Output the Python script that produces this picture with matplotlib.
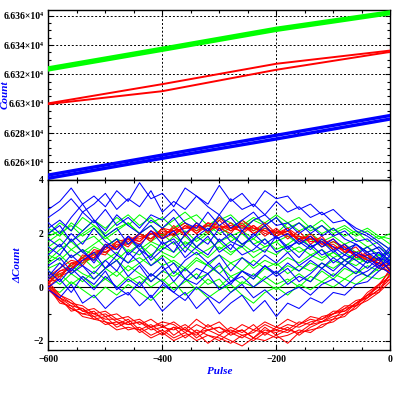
#!/usr/bin/env python3
"""
Count vs pulse: top panel raw counts, bottom panel residuals (ΔCount)
"""

import numpy as np
import matplotlib
matplotlib.use('Agg')
import matplotlib.pyplot as plt
from matplotlib.ticker import MultipleLocator, FuncFormatter

# ---- data ------------------------------------------------------------
# top panel: counts at a few pulse values
top_pulse = [-600, -400, -200, 0]
green_top_hi = [66324.6, 66338.0, 66351.6, 66362.8]
green_top_lo = [66323.0, 66336.4, 66350.0, 66361.4]
red_top_up = [66300.3, 66313.4, 66327.3, 66336.3]
red_top_dn = [66299.8, 66308.6, 66323.2, 66335.4]
blue_top_hi = [66251.4, 66265.0, 66278.5, 66292.0]
blue_top_lo = [66249.2, 66262.8, 66276.0, 66289.6]

# bottom panel: residuals every 20 pulses, -600 .. 0
pulse = np.arange(-600, 1, 20)

green_resid = [
    [2.2, 1.9, 2.4, 2.1, 2.5, 2.2, 2.6, 2.3, 2.7, 2.4, 2.6, 2.2, 2.5, 2.7, 2.3, 2.6, 2.4, 2.2, 2.5, 2.3, 2.6, 2.2, 2.4, 2.1, 2.3, 2.0, 2.2, 1.9, 2.1, 1.8, 2.0],
    [1.9, 2.1, 1.7, 2.0, 2.3, 1.9, 2.2, 2.4, 2.0, 2.3, 1.9, 2.2, 2.4, 2.1, 2.3, 2.0, 2.2, 2.5, 2.1, 2.3, 1.9, 2.1, 1.8, 2.0, 1.7, 1.9, 1.6, 1.8, 1.5, 1.7, 1.4],
    [1.5, 1.8, 1.4, 1.7, 1.9, 1.5, 1.8, 1.6, 2.0, 1.7, 1.5, 1.9, 1.6, 1.8, 2.1, 1.7, 1.9, 1.6, 1.8, 1.5, 1.7, 1.9, 1.6, 1.8, 1.5, 1.7, 1.4, 1.6, 1.3, 1.5, 1.2],
    [1.2, 1.0, 1.4, 1.1, 1.5, 1.3, 1.0, 1.4, 1.2, 1.6, 1.3, 1.1, 1.5, 1.2, 1.4, 1.7, 1.3, 1.5, 1.1, 1.4, 1.2, 1.6, 1.3, 1.5, 1.1, 1.3, 1.0, 1.2, 0.9, 1.1, 0.8],
    [0.9, 1.2, 0.8, 1.1, 0.7, 1.0, 1.3, 0.9, 1.1, 0.8, 1.2, 0.9, 0.6, 1.0, 0.8, 1.2, 0.9, 1.1, 0.7, 1.0, 0.8, 1.1, 0.9, 1.2, 1.0, 1.3, 1.0, 1.2, 0.9, 1.1, 1.3],
    [0.6, 0.4, 0.8, 0.5, 0.3, 0.7, 0.4, 0.8, 0.5, 0.2, 0.6, 0.4, 0.7, 0.3, 0.5, 0.8, 0.4, 0.6, 0.3, 0.7, 0.5, 0.8, 0.6, 0.9, 0.7, 1.0, 0.8, 1.1, 0.9, 1.2, 1.0],
    [0.3, 0.5, 0.1, 0.4, 0.0, 0.3, 0.6, 0.2, 0.4, 0.0, 0.3, -0.1, 0.2, 0.5, 0.1, 0.3, -0.2, 0.2, 0.0, 0.4, 0.1, 0.3, 0.0, 0.4, 0.2, 0.5, 0.3, 0.6, 0.4, 0.7, 0.6],
    [0.0, -0.2, 0.2, -0.1, -0.4, 0.0, -0.3, 0.1, -0.2, -0.5, -0.1, 0.2, -0.3, 0.0, -0.4, -0.1, 0.1, -0.3, -0.6, -0.2, 0.0, -0.3, 0.1, -0.1, 0.2, 0.0, 0.3, 0.1, 0.4, 0.3, 0.5],
    [1.7, 2.0, 2.3, 1.9, 2.2, 1.8, 2.1, 2.4, 2.0, 1.8, 2.2, 1.9, 2.1, 1.7, 2.0, 2.3, 1.9, 2.1, 1.8, 2.2, 2.0, 2.4, 2.1, 2.3, 2.0, 2.2, 1.9, 2.1, 1.7, 1.9, 1.6],
    [1.0, 1.4, 1.7, 1.3, 1.6, 1.9, 1.5, 1.8, 1.4, 1.7, 2.0, 1.6, 1.9, 1.5, 1.8, 1.4, 1.7, 2.0, 1.6, 1.8, 1.4, 1.6, 1.9, 1.5, 1.7, 1.4, 1.6, 1.3, 1.5, 1.2, 1.3],
    [0.7, 0.9, 0.5, 0.9, 1.1, 0.7, 1.0, 0.6, 0.9, 1.2, 0.8, 1.0, 0.7, 1.1, 0.8, 0.5, 0.9, 0.6, 1.0, 0.7, 0.9, 0.5, 0.8, 0.6, 0.9, 0.7, 1.0, 0.8, 1.1, 0.9, 0.7],
    [2.0, 2.4, 2.1, 2.6, 2.3, 2.0, 2.4, 2.7, 2.3, 2.6, 2.2, 2.5, 2.8, 2.4, 2.1, 2.5, 2.7, 2.3, 2.6, 2.4, 2.7, 2.4, 2.6, 2.2, 2.5, 2.1, 2.3, 2.0, 2.2, 1.9, 1.8],
    [0.4, 0.1, 0.5, 0.2, 0.6, 0.3, 0.0, 0.4, 0.1, 0.5, 0.2, 0.6, 0.3, -0.1, 0.3, 0.0, 0.4, 0.1, 0.5, 0.2, -0.1, 0.2, 0.5, 0.2, 0.6, 0.3, 0.7, 0.5, 0.8, 0.6, 0.9],
    [1.3, 1.6, 1.1, 1.4, 1.2, 1.5, 1.8, 1.3, 1.6, 1.2, 1.5, 1.3, 1.7, 1.4, 1.1, 1.5, 1.2, 1.6, 1.3, 1.5, 1.7, 1.3, 1.5, 1.2, 1.4, 1.1, 1.3, 1.0, 1.2, 1.0, 1.1],
]

red_resid_up = [
    [0.1, 0.6, 0.7, 1.1, 1.0, 1.5, 1.4, 1.8, 1.6, 2.0, 1.8, 2.3, 1.9, 2.4, 2.0, 2.5, 2.1, 2.4, 2.0, 2.3, 1.9, 2.2, 1.7, 2.0, 1.6, 1.8, 1.3, 1.5, 1.0, 1.1, 0.6],
    [0.3, 0.4, 0.9, 0.8, 1.3, 1.2, 1.7, 1.5, 2.0, 1.7, 2.2, 1.9, 2.3, 2.0, 2.4, 2.1, 2.4, 2.0, 2.3, 1.9, 2.2, 1.8, 2.1, 1.6, 1.9, 1.4, 1.6, 1.1, 1.3, 0.8, 0.9],
    [0.2, 0.5, 0.7, 1.0, 1.2, 1.3, 1.6, 1.6, 1.9, 1.8, 2.1, 2.0, 2.2, 2.3, 2.1, 2.3, 2.2, 2.1, 2.3, 2.0, 2.1, 2.0, 1.8, 1.9, 1.6, 1.6, 1.3, 1.3, 1.1, 0.9, 0.7],
    [0.4, 0.7, 1.0, 0.9, 1.4, 1.3, 1.5, 1.9, 1.7, 2.1, 1.9, 2.2, 2.0, 2.3, 2.1, 2.6, 2.2, 2.3, 2.1, 2.4, 2.0, 2.2, 1.9, 1.8, 1.7, 1.5, 1.4, 1.2, 1.0, 0.9, 0.5],
    [0.0, 0.4, 0.6, 1.2, 1.1, 1.6, 1.5, 1.7, 2.0, 1.8, 2.2, 2.1, 2.4, 2.0, 2.3, 2.2, 2.0, 2.5, 2.2, 2.1, 1.9, 2.1, 1.8, 1.9, 1.5, 1.7, 1.5, 1.2, 1.2, 0.8, 0.8],
    [0.3, 0.6, 0.8, 1.1, 1.3, 1.4, 1.7, 1.8, 1.8, 2.0, 2.0, 2.1, 2.2, 2.2, 2.3, 2.2, 2.3, 2.2, 2.2, 2.1, 2.1, 1.9, 1.9, 1.7, 1.7, 1.5, 1.4, 1.3, 1.0, 1.0, 0.6],
    [0.2, 0.3, 0.9, 1.0, 1.1, 1.5, 1.4, 1.8, 1.7, 2.1, 1.8, 2.0, 2.3, 2.1, 2.4, 2.3, 2.1, 2.3, 2.0, 2.2, 2.0, 2.1, 1.7, 1.8, 1.8, 1.4, 1.5, 1.1, 1.2, 0.7, 0.6],
]

red_resid_dn = [
    [0.1, -0.3, -0.6, -0.7, -1.0, -0.9, -1.2, -1.1, -1.4, -1.2, -1.5, -1.3, -1.6, -1.2, -1.5, -1.3, -1.7, -1.4, -1.6, -1.3, -1.5, -1.2, -1.4, -1.1, -1.2, -0.9, -0.9, -0.6, -0.4, -0.1, 0.3],
    [0.0, -0.5, -0.8, -1.0, -1.1, -1.4, -1.3, -1.6, -1.5, -1.8, -1.6, -1.9, -1.7, -2.0, -1.8, -1.9, -2.1, -1.8, -2.0, -1.7, -1.9, -1.8, -1.6, -1.7, -1.4, -1.3, -1.0, -0.8, -0.4, -0.1, 0.5],
    [-0.1, -0.4, -0.9, -0.8, -1.2, -1.1, -1.5, -1.3, -1.7, -1.5, -1.4, -1.8, -1.5, -1.9, -1.6, -1.5, -1.8, -1.6, -1.9, -1.5, -1.8, -1.6, -1.7, -1.4, -1.3, -1.2, -0.8, -0.7, -0.2, 0.1, 0.4],
    [0.2, -0.3, -0.5, -0.9, -0.8, -1.1, -1.0, -1.3, -1.2, -1.5, -1.3, -1.4, -1.7, -1.4, -1.6, -1.8, -1.5, -1.7, -1.4, -1.8, -1.5, -1.6, -1.3, -1.4, -1.1, -1.0, -0.8, -0.5, -0.4, 0.1, 0.6],
    [0.0, -0.6, -0.7, -1.1, -1.2, -1.3, -1.6, -1.5, -1.6, -1.9, -1.7, -2.0, -1.8, -1.7, -2.1, -1.8, -2.0, -2.2, -1.9, -2.0, -1.8, -2.1, -1.7, -1.6, -1.5, -1.2, -1.1, -0.7, -0.5, -0.2, 0.2],
    [0.1, -0.4, -0.6, -0.9, -1.0, -1.2, -1.2, -1.4, -1.3, -1.6, -1.5, -1.6, -1.4, -1.7, -1.6, -1.5, -1.7, -1.9, -1.6, -1.7, -1.6, -1.4, -1.5, -1.3, -1.2, -1.0, -0.9, -0.6, -0.3, 0.0, 0.7],
    [-0.1, -0.5, -0.8, -1.0, -0.9, -1.3, -1.4, -1.2, -1.6, -1.4, -1.7, -1.5, -1.9, -1.6, -1.8, -2.0, -1.7, -1.6, -1.9, -1.6, -1.7, -1.5, -1.8, -1.5, -1.3, -1.1, -1.0, -0.6, -0.3, 0.1, 0.3],
    [0.0, -0.4, -0.7, -0.8, -1.1, -1.0, -1.3, -1.4, -1.3, -1.5, -1.8, -1.5, -1.6, -1.8, -1.4, -1.7, -1.6, -1.8, -1.7, -1.4, -1.6, -1.7, -1.4, -1.2, -1.3, -1.0, -0.7, -0.7, -0.3, -0.2, 0.5],
]

blue_resid = [
    [2.9, 3.2, 3.7, 3.1, 3.4, 3.0, 3.6, 3.2, 3.9, 3.3, 3.5, 3.0, 3.7, 3.4, 3.1, 3.8, 3.2, 3.5, 3.0, 3.6, 3.3, 3.4, 2.9, 3.1, 2.7, 2.9, 2.5, 2.2, 2.0, 1.7, 1.4],
    [2.6, 2.9, 3.3, 2.8, 3.1, 3.5, 2.9, 3.3, 3.0, 3.6, 2.8, 3.2, 2.9, 3.4, 3.0, 2.7, 3.3, 2.9, 3.1, 2.7, 3.2, 2.8, 3.0, 2.6, 2.8, 2.4, 2.5, 2.1, 1.9, 1.6, 1.2],
    [2.2, 2.5, 2.1, 2.8, 2.4, 2.9, 2.3, 2.6, 2.2, 2.7, 2.5, 2.9, 2.4, 2.2, 2.8, 2.3, 2.6, 2.1, 2.5, 2.7, 2.3, 2.4, 2.0, 2.3, 1.9, 2.2, 1.8, 1.6, 1.3, 1.5, 1.1],
    [1.8, 1.5, 2.0, 1.6, 2.2, 1.7, 1.4, 1.9, 1.5, 2.1, 1.6, 1.8, 1.3, 1.9, 1.6, 2.2, 1.7, 1.5, 2.0, 1.6, 1.9, 1.4, 1.8, 1.5, 1.7, 1.3, 1.6, 1.2, 1.5, 1.1, 0.9],
    [1.2, 1.6, 1.1, 1.4, 0.9, 1.5, 1.8, 1.2, 1.6, 1.0, 1.4, 1.7, 1.1, 1.5, 1.9, 1.3, 1.6, 1.2, 1.4, 1.8, 1.3, 1.5, 1.1, 1.6, 1.2, 1.4, 1.0, 1.3, 1.1, 0.8, 1.0],
    [0.8, 1.1, 0.6, 1.0, 1.3, 0.7, 1.2, 0.9, 1.4, 0.8, 1.1, 0.5, 1.0, 1.3, 0.9, 1.2, 0.6, 1.1, 0.8, 1.2, 0.9, 1.3, 0.8, 1.1, 1.4, 0.9, 1.2, 1.0, 0.7, 1.1, 0.6],
    [0.4, 0.9, 0.5, 0.8, 0.3, 0.7, 1.0, 0.4, 0.8, 0.2, 0.6, 0.9, 0.3, 0.7, 0.5, 0.9, 0.2, 0.6, 0.4, 0.8, 0.5, 0.9, 0.6, 1.0, 0.7, 1.1, 0.8, 1.2, 0.9, 1.3, 0.8],
    [0.0, 0.3, -0.2, 0.4, 0.1, 0.6, -0.1, 0.3, 0.0, 0.5, 0.2, -0.2, 0.3, 0.1, 0.5, -0.1, 0.2, 0.4, 0.0, 0.3, 0.6, 0.1, 0.4, 0.2, 0.7, 0.4, 0.8, 0.5, 1.0, 0.7, 1.2],
    [-0.1, -0.4, 0.1, -0.6, -0.3, -0.8, -0.4, -0.2, -0.7, -0.3, -0.9, -0.5, -0.2, -0.8, -0.4, -1.0, -0.6, -0.3, -0.9, -0.5, -1.1, -0.6, -0.8, -0.4, -0.6, -0.2, -0.3, 0.1, 0.2, 0.6, 0.9],
    [0.6, 0.2, 0.7, 0.3, -0.1, 0.4, 0.0, -0.3, 0.2, -0.4, 0.1, -0.2, -0.5, 0.0, -0.3, -0.6, -0.2, 0.1, -0.4, -0.1, -0.5, -0.2, 0.0, -0.3, 0.1, 0.3, 0.0, 0.4, 0.6, 0.9, 1.4],
    [1.5, 1.2, 1.8, 1.3, 1.0, 1.6, 1.2, 1.9, 1.4, 1.1, 1.7, 1.3, 2.0, 1.5, 1.2, 1.8, 1.4, 2.1, 1.6, 1.3, 1.9, 1.5, 1.7, 1.4, 1.8, 1.5, 1.2, 1.6, 1.3, 1.0, 1.5],
    [2.4, 2.0, 2.6, 3.1, 2.5, 2.1, 2.7, 2.3, 2.0, 2.5, 2.2, 2.6, 2.0, 2.4, 2.1, 2.7, 2.2, 2.5, 2.8, 2.3, 2.6, 2.1, 2.4, 2.0, 2.3, 1.9, 2.1, 1.7, 1.8, 1.4, 0.9],
    [0.3, 0.7, 1.2, 0.8, 0.5, 1.0, 0.6, 1.3, 0.9, 0.4, 0.8, 0.2, 0.7, 0.3, 0.9, 0.5, 0.1, 0.6, 0.3, 0.8, 0.4, 0.7, 0.2, 0.5, 0.9, 0.6, 1.0, 0.7, 0.4, 0.8, 0.5],
    [2.0, 2.3, 1.7, 2.1, 2.5, 1.9, 2.2, 1.6, 2.0, 2.3, 1.8, 2.1, 1.5, 1.9, 2.2, 1.7, 2.0, 1.6, 1.9, 2.3, 1.8, 2.0, 1.6, 1.9, 1.5, 1.8, 1.4, 1.6, 1.2, 1.3, 1.0],
]

GREEN = '#00ff00'
RED = '#ff0000'
BLUE = '#0000ff'

plt.rcParams['font.family'] = ['Liberation Serif', 'DejaVu Serif']
tick_size = 7
label_font = dict(fontsize=8, fontweight='bold', style='italic', color=BLUE)

fig = plt.figure(figsize=(3.99, 3.99), dpi=100)
ax1 = fig.add_axes([0.1213, 0.5489, 0.8567, 0.4261])
ax2 = fig.add_axes([0.1213, 0.1228, 0.8567, 0.4261], sharex=ax1)

# ---- top panel ----
for vals in (green_top_hi, green_top_lo):
    ax1.plot(top_pulse, vals, color=GREEN, lw=2.2, zorder=3)
for vals in (red_top_up, red_top_dn):
    ax1.plot(top_pulse, vals, color=RED, lw=1.4, zorder=3)
for vals in (blue_top_hi, blue_top_lo):
    ax1.plot(top_pulse, vals, color=BLUE, lw=2.4, zorder=3)

ax1.set_ylim(66248, 66364)
ax1.yaxis.set_major_locator(MultipleLocator(20))
ax1.yaxis.set_minor_locator(MultipleLocator(5))
ax1.yaxis.set_major_formatter(FuncFormatter(lambda v, p: f'{v / 1e4:g}×10⁴'))
ax1.set_ylabel('Count', **label_font)
ax1.yaxis.set_label_coords(-0.112, 0.5)
ax1.tick_params(labelbottom=False)

# ---- bottom panel ----
for vals in green_resid:
    ax2.plot(pulse, vals, color=GREEN, lw=0.75, zorder=3)
for vals in red_resid_up + red_resid_dn:
    ax2.plot(pulse, vals, color=RED, lw=0.75, zorder=3)
for vals in blue_resid:
    ax2.plot(pulse, vals, color=BLUE, lw=0.75, zorder=3)
ax2.axhline(0, color='black', lw=0.8, zorder=2)

ax2.set_ylim(-2.35, 4)
ax2.yaxis.set_major_locator(MultipleLocator(2))
ax2.yaxis.set_minor_locator(MultipleLocator(1))
ax2.set_ylabel('ΔCount', **label_font)
ax2.yaxis.set_label_coords(-0.075, 0.5)
ax2.set_xlabel('Pulse', **label_font)
ax2.xaxis.set_label_coords(0.5, -0.1)

ax2.set_xlim(-600, 0)
ax2.xaxis.set_major_locator(MultipleLocator(200))
ax2.xaxis.set_minor_locator(MultipleLocator(50))

for ax in (ax1, ax2):
    ax.grid(True, which='major', color='black', linestyle=(0, (2, 2)), lw=0.7, zorder=1)
    ax.tick_params(which='both', direction='in', top=True, right=True, width=0.8,
                   labelsize=tick_size)
    ax.tick_params(which='major', length=3.5)
    ax.tick_params(which='minor', length=2)
    for lab in ax.get_xticklabels() + ax.get_yticklabels():
        lab.set_fontweight('bold')
    for sp in ax.spines.values():
        sp.set_linewidth(1.0)

fig.savefig('out.png', dpi=100)
